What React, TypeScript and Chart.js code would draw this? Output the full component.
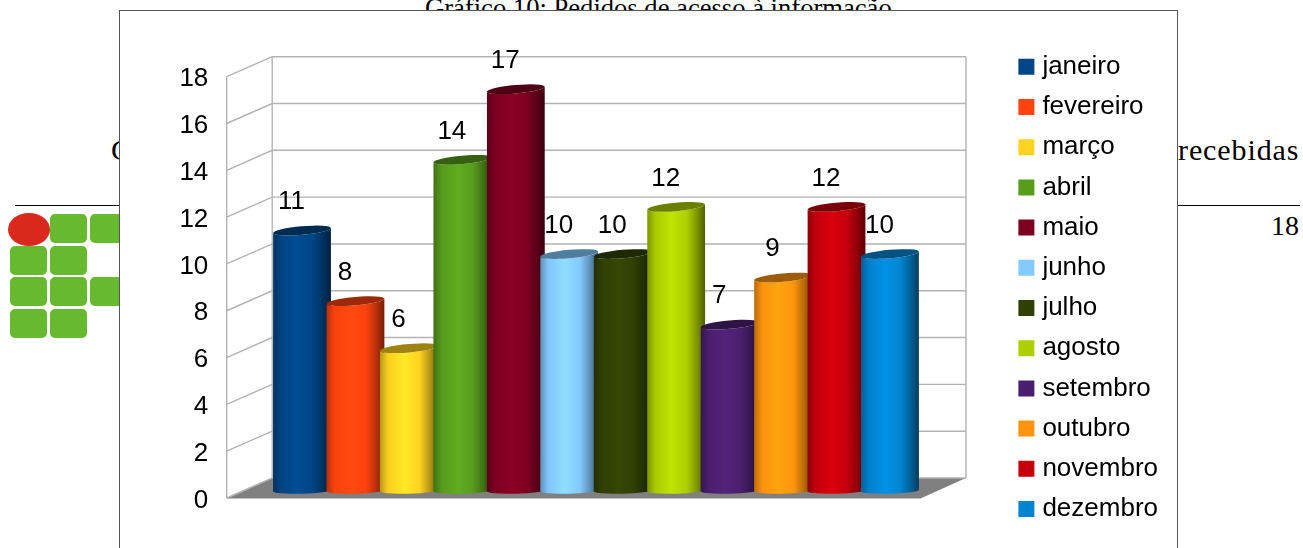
import React, { useEffect, useRef } from "react";
import { Chart, registerables } from "chart.js";

Chart.register(...registerables);

const SANS = "'Liberation Sans', Arial, sans-serif";
const SERIF = "'Liberation Serif', 'Times New Roman', serif";

const months = ["janeiro", "fevereiro", "março", "abril", "maio", "junho", "julho", "agosto", "setembro", "outubro", "novembro", "dezembro"];
const requests = [11, 8, 6, 14, 17, 10, 10, 12, 7, 9, 12, 10];
const palette = ["#004586", "#ff420e", "#ffd320", "#579d1c", "#7e0021", "#83caff", "#314004", "#aecf00", "#4b1f6f", "#ff950e", "#c5000b", "#0084d1"];
const logoCells: [number, number][] = [[1, 0], [2, 0], [0, 1], [1, 1], [0, 2], [1, 2], [2, 2], [0, 3], [1, 3]];

// Oblique projection of the 3D box
const DEPTH_X = 45.5;
const DEPTH_Y = -20;
const FRONT_LEFT = 226.7;
const FRONT_RIGHT = 920.5;
const BAR_BASE_LIFT = 7.5;
const BAR_TOP_LIFT = 8.5;
const BAR_STRETCH = 1.006;
const BAR_RADIUS = 29;

function shade(hex: string, k: number) {
  const n = parseInt(hex.slice(1), 16);
  const c = [(n >> 16) & 255, (n >> 8) & 255, n & 255].map((v) => Math.min(255, Math.round(v * k)));
  return `rgb(${c[0]},${c[1]},${c[2]})`;
}

const box3d = {
  id: "box3d",
  beforeDatasetsDraw(chart: any) {
    const { ctx, scales } = chart;
    const y = scales.y;
    const zero = y.getPixelForValue(0);
    const top = y.getPixelForValue(y.max);
    const backLeft = FRONT_LEFT + DEPTH_X;
    const backRight = FRONT_RIGHT + DEPTH_X;

    ctx.save();
    // Floor
    ctx.fillStyle = "#808080";
    ctx.beginPath();
    ctx.moveTo(FRONT_LEFT, zero + 0.5);
    ctx.lineTo(FRONT_RIGHT, zero + 0.5);
    ctx.lineTo(backRight, zero + DEPTH_Y);
    ctx.lineTo(backLeft, zero + DEPTH_Y);
    ctx.closePath();
    ctx.fill();

    // Walls and gridlines
    ctx.strokeStyle = "#b3b3b3";
    ctx.lineWidth = 1.4;
    ctx.beginPath();
    ctx.moveTo(FRONT_LEFT, top);
    ctx.lineTo(FRONT_LEFT, zero);
    ctx.moveTo(backLeft, top + DEPTH_Y);
    ctx.lineTo(backLeft, zero + DEPTH_Y);
    ctx.moveTo(backRight, top + DEPTH_Y);
    ctx.lineTo(backRight, zero + DEPTH_Y);
    y.ticks.forEach((t: any) => {
      const py = y.getPixelForValue(t.value);
      ctx.moveTo(FRONT_LEFT, py);
      ctx.lineTo(backLeft, py + DEPTH_Y);
      ctx.lineTo(backRight, py + DEPTH_Y);
    });
    ctx.stroke();

    // Cylinders, left to right so each one overlaps the previous
    const base = zero - BAR_BASE_LIFT;
    const labels: { text: string; x: number; y: number }[] = [];
    chart.data.datasets.forEach((ds: any, i: number) => {
      const el = chart.getDatasetMeta(i).data[0];
      const color = ds.backgroundColor as string;
      const cx = el.x;
      const topY = zero - BAR_TOP_LIFT - (zero - el.y) * BAR_STRETCH;
      const left = cx - BAR_RADIUS;
      const right = cx + BAR_RADIUS;
      const topTilt = -5 * Math.PI / 180;
      const baseTilt = -1.7 * Math.PI / 180;
      const grad = ctx.createLinearGradient(left, 0, right, 0);
      grad.addColorStop(0, shade(color, 0.72));
      grad.addColorStop(0.14, shade(color, 0.98));
      grad.addColorStop(0.42, shade(color, 1.1));
      grad.addColorStop(0.68, shade(color, 1.0));
      grad.addColorStop(0.86, shade(color, 0.72));
      grad.addColorStop(1, shade(color, 0.45));
      ctx.fillStyle = grad;
      ctx.beginPath();
      ctx.ellipse(cx, base, BAR_RADIUS, 3.2, baseTilt, 0, Math.PI);
      ctx.ellipse(cx, topY, BAR_RADIUS, 4.2, topTilt, Math.PI, 0, true);
      ctx.closePath();
      ctx.fill();
      ctx.fillStyle = shade(color, 0.62);
      ctx.beginPath();
      ctx.ellipse(cx, topY, BAR_RADIUS, 4.2, topTilt, 0, Math.PI * 2);
      ctx.fill();
      labels.push({ text: String(ds.data[0]), x: cx - 10.5, y: topY - 28.5 });
    });

    // Value labels
    ctx.fillStyle = "#000";
    ctx.font = `26px ${SANS}`;
    ctx.textAlign = "center";
    ctx.textBaseline = "middle";
    labels.forEach((l) => ctx.fillText(l.text, l.x, l.y));
    ctx.restore();
    return false;
  },
};

const abs = (s: React.CSSProperties): React.CSSProperties => ({ position: "absolute", ...s });

export default function App() {
  const ref = useRef<HTMLCanvasElement>(null);

  useEffect(() => {
    document.body.style.margin = "0";
    document.body.style.overflow = "hidden";
    const chart = new Chart(ref.current!, {
      type: "bar",
      data: {
        labels: [""],
        datasets: months.map((m, i) => ({
          label: m,
          data: [requests[i]],
          backgroundColor: palette[i],
          borderColor: palette[i],
          borderWidth: 10,
        })),
      },
      options: {
        responsive: false,
        animation: false,
        layout: { padding: { top: 39.6, right: 135, bottom: 0, left: 0 } },
        datasets: { bar: { barPercentage: 1, categoryPercentage: 1 } },
        plugins: {
          legend: {
            position: "right",
            align: "start",
            onClick: () => {},
            labels: {
              boxWidth: 6,
              boxHeight: 6,
              padding: 14.2,
              color: "#000",
              font: { family: SANS, size: 26 },
            },
          },
          tooltip: { enabled: false },
        },
        scales: {
          x: {
            position: "bottom",
            grid: { display: false },
            border: { display: false },
            ticks: { display: false },
            afterFit: (s: any) => { s.height = 50; },
          },
          xTop: {
            type: "category",
            labels: [""],
            position: "top",
            grid: { display: false },
            border: { display: false },
            ticks: { display: false },
            afterFit: (s: any) => { s.height = 37.1; },
          },
          y: {
            min: 0,
            max: 18,
            position: "left",
            grid: { display: false, drawTicks: false },
            border: { display: false },
            ticks: { stepSize: 2, padding: 67, labelOffset: 2.5, color: "#000", font: { family: SANS, size: 26 } },
            afterFit: (s: any) => { s.width = 275.3; s.paddingTop = 0; s.paddingBottom = 0; },
          },
          spacer: {
            type: "linear",
            position: "right",
            grid: { display: false, drawTicks: false },
            border: { display: false },
            ticks: { display: false },
            afterFit: (s: any) => { s.width = 92.5; },
          },
        },
      } as any,
      plugins: [box3d],
    });
    return () => chart.destroy();
  }, []);

  return (
    <div style={abs({ left: 0, top: 0, width: 1303, height: 548, overflow: "hidden", background: "#fff" })}>
      <div style={abs({ left: 425, top: -7, fontFamily: SERIF, fontSize: 26.6, lineHeight: "30px", whiteSpace: "nowrap", color: "#000" })}>Gráfico 10: Pedidos de acesso à informação</div>
      <div style={abs({ left: 111, top: 132, fontFamily: SERIF, fontSize: 30, lineHeight: "36px", color: "#000" })}>C</div>
      <div style={abs({ left: 1178, top: 132, fontFamily: SERIF, fontSize: 30, lineHeight: "36px", letterSpacing: 0.9, color: "#000" })}>recebidas</div>
      <div style={abs({ left: 1271, top: 209, fontFamily: SERIF, fontSize: 28, lineHeight: "34px", color: "#000" })}>18</div>
      <div style={abs({ left: 15, top: 205, width: 1285, height: 1, background: "#000" })} />
      {logoCells.map(([c, r], i) => (
        <div key={i} style={abs({ left: 10 + c * 40, top: 214 + r * 31.7, width: 37, height: 29, borderRadius: 5, background: "#67b92f" })} />
      ))}
      <div style={abs({ left: 8, top: 213, width: 42, height: 33, borderRadius: "50%", background: "#da291c" })} />
      <div style={abs({ left: 119, top: 10, width: 1059, height: 560, boxSizing: "border-box", background: "#fff", border: "1px solid #555" })} />
      <canvas ref={ref} width={1303} height={548} style={abs({ left: 0, top: 0 })} />
    </div>
  );
}
